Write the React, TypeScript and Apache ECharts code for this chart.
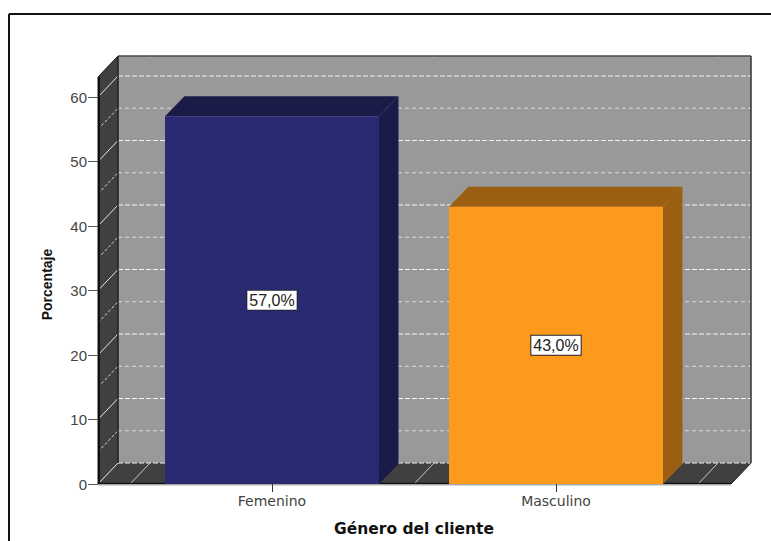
import React, { useEffect, useRef } from "react";
import * as echarts from "echarts";

const categories = ["Femenino", "Masculino"];
const percentages = [57.0, 43.0];
const yTicks = [0, 10, 20, 30, 40, 50, 60];
const gridValues = [0, 5, 10, 15, 20, 25, 30, 35, 40, 45, 50, 55, 60];
const frontColors = ["#2a2a73", "#fb9a1d"];
const shadeColors = ["#1b1b4a", "#9c5f12"];

const FONT = '"Liberation Sans", Arial, sans-serif';
const WIDE_FONT = '"DejaVu Sans", Verdana, sans-serif';
const DX = 20;
const DY = 21;
const LEFT_PAD = 32;
const RIGHT_PAD = 33;
const HEAD = 20;
const BAR_RATIO = 0.7535;
const BAR_DX = 19.5;
const BAR_DY = 20;

function renderChrome(params: any, api: any) {
  const c = params.coordSys;
  const x0 = c.x - LEFT_PAD;
  const x1 = c.x + c.width + RIGHT_PAD;
  const yB = c.y + c.height;
  const yT = c.y - HEAD;
  const kids: any[] = [];
  const poly = (points: number[][], fill: string) => ({
    type: "polygon",
    shape: { points },
    style: { fill, stroke: fill, lineWidth: 0.5 },
  });
  const line = (a: number[], b: number[], stroke: string, w = 1, dash?: number[]) => ({
    type: "line",
    shape: { x1: a[0], y1: a[1], x2: b[0], y2: b[1] },
    style: { stroke, lineWidth: w, lineDash: dash },
  });
  kids.push({
    type: "rect",
    shape: { x: x0 + DX, y: yT - DY, width: x1 - x0, height: yB - yT },
    style: { fill: "#999999" },
  });
  kids.push(poly([[x0, yT], [x0 + DX, yT - DY], [x0 + DX, yB - DY], [x0, yB]], "#404040"));
  kids.push(poly([[x0, yB], [x1, yB], [x1 + DX, yB - DY], [x0 + DX, yB - DY]], "#404040"));
  gridValues.forEach((v) => {
    const y = api.coord([0, v])[1];
    const major = v % 10 === 0;
    kids.push(line([x0, y], [x0 + DX, y - DY], major ? "#e8e8e8" : "#d8d8d8", 1, major ? undefined : [3, 2]));
    kids.push(
      line([x0 + DX, y - DY], [x1 + DX, y - DY], major ? "#f4f4f4" : "#dcdcdc", 1, major ? [5, 2] : [4, 3])
    );
  });
  const band = c.width / categories.length;
  for (let i = 0; i <= categories.length; i++) {
    const x = c.x + i * band;
    kids.push(line([x, yB], [x + DX, yB - DY], "#c8c8c8", 1));
    kids.push(line([x + DX, yT - DY], [x + DX, yT - DY + 2], "#bbbbbb", 1));
  }
  kids.push(line([x0 + 1, yT], [x0 + 1, yB], "#111111", 2));
  kids.push(line([x0 + DX, yT - DY], [x0 + DX, yB - DY], "#222222", 1.5));
  kids.push(line([x0 + DX, yT - DY], [x1 + DX, yT - DY], "#4a4a4a", 1.5));
  kids.push(line([x1 + DX, yT - DY], [x1 + DX, yB - DY], "#333333", 1.5));
  kids.push(line([x0, yT], [x0 + DX, yT - DY], "#222222", 1));
  kids.push(line([x0, yB - 0.5], [x1, yB - 0.5], "#111111", 1.5));
  kids.push(line([x1, yB], [x1 + DX, yB - DY], "#222222", 1));
  kids.push(line([x0 - 0.5, yT], [x0 - 0.5, yB + 1], "#8a8a8a", 1));
  kids.push(line([x0, yB + 1], [x1, yB + 1], "#b0b0b0", 1));
  return { type: "group", children: kids };
}

function renderBar(params: any, api: any) {
  const idx = api.value(0);
  const val = api.value(1);
  const top = api.coord([idx, val]);
  const base = api.coord([idx, 0]);
  const w = api.size([1, 0])[0] * BAR_RATIO;
  const l = top[0] - w / 2;
  const r = top[0] + w / 2;
  const t = top[1];
  const b = base[1];
  const shade = shadeColors[params.dataIndex];
  const front = frontColors[params.dataIndex];
  return {
    type: "group",
    children: [
      {
        type: "polygon",
        shape: { points: [[l, t], [l + BAR_DX, t - BAR_DY], [r + BAR_DX, t - BAR_DY], [r, t]] },
        style: { fill: shade },
      },
      {
        type: "polygon",
        shape: { points: [[r, t], [r + BAR_DX, t - BAR_DY], [r + BAR_DX, b - BAR_DY], [r, b]] },
        style: { fill: shade },
      },
      { type: "rect", shape: { x: l, y: t, width: r - l, height: b - t }, style: { fill: front } },
      {
        type: "text",
        style: {
          text: val.toFixed(1).replace(".", ",") + "%",
          x: top[0],
          y: (t + b) / 2,
          align: "center",
          verticalAlign: "middle",
          fill: "#222222",
          font: `16px ${FONT}`,
          backgroundColor: "#ffffff",
          borderColor: "#222233",
          borderWidth: 1,
          padding: [2, 2, 1, 2],
        },
      },
    ],
  };
}

export default function App() {
  const ref = useRef<HTMLDivElement>(null);
  useEffect(() => {
    const chart = echarts.init(ref.current!, undefined, { renderer: "svg" });
    chart.setOption({
      animation: false,
      backgroundColor: "#ffffff",
      grid: { left: 130, right: 73, top: 97, bottom: 57, outerBoundsMode: "none" },
      xAxis: {
        type: "category",
        z: 5,
        data: categories,
        name: "Género del cliente",
        nameLocation: "middle",
        nameGap: 37,
        nameTextStyle: { fontFamily: WIDE_FONT, fontWeight: "bold", fontSize: 15.5, color: "#111" },
        axisLine: { show: false },
        axisTick: { show: true, alignWithLabel: true, length: 8, lineStyle: { color: "#333" } },
        axisLabel: { fontFamily: WIDE_FONT, fontSize: 14, color: "#444", margin: 10 },
        splitLine: { show: false },
      },
      yAxis: {
        type: "value",
        z: 5,
        min: 0,
        max: 60,
        interval: 10,
        offset: LEFT_PAD,
        name: "Porcentaje",
        nameLocation: "middle",
        nameGap: 44,
        nameTextStyle: {
          fontFamily: FONT,
          fontWeight: "bold",
          fontSize: 14,
          color: "#111",
          padding: [0, 0, 0, 12],
        },
        axisLine: { show: false },
        axisTick: { show: true, length: 10, lineStyle: { color: "#555" } },
        axisLabel: {
          fontFamily: FONT,
          fontSize: 15,
          color: "#444",
          margin: 11,
          customValues: yTicks,
        },
        splitLine: { show: false },
      },
      graphic: [
        { type: "line", z: 100, shape: { x1: 9, y1: 14, x2: 771, y2: 14 }, style: { stroke: "#111", lineWidth: 2 } },
        { type: "line", z: 100, shape: { x1: 9, y1: 14, x2: 9, y2: 541 }, style: { stroke: "#111", lineWidth: 2 } },
      ],
      series: [
        { type: "custom", z: 1, renderItem: renderChrome, data: [[0, 0]], silent: true },
        {
          type: "custom",
          z: 2,
          renderItem: renderBar,
          encode: { x: 0, y: 1 },
          data: categories.map((_, i) => [i, percentages[i]]),
        },
      ],
    });
    return () => chart.dispose();
  }, []);
  return <div ref={ref} style={{ position: "absolute", left: 0, top: 0, width: 771, height: 541 }} />;
}
